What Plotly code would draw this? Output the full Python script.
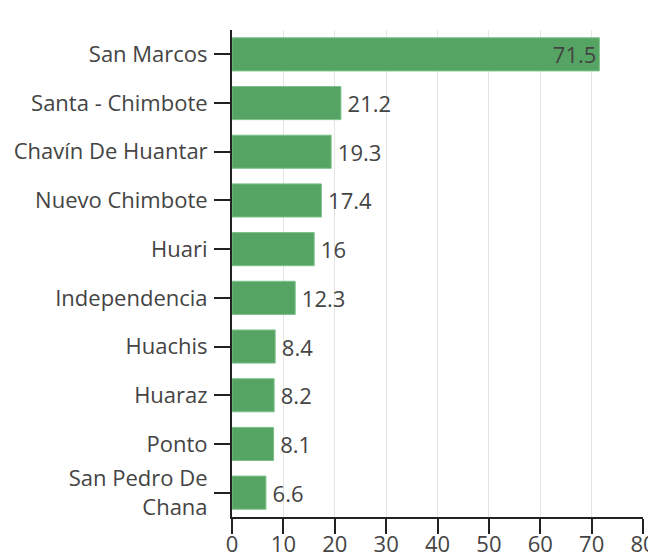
import plotly.graph_objects as go

categories = ["San Marcos", "Santa - Chimbote", "Chavín De Huantar", "Nuevo Chimbote",
              "Huari", "Independencia", "Huachis", "Huaraz", "Ponto", "San Pedro De<br>Chana"]
values = [71.5, 21.2, 19.3, 17.4, 16, 12.3, 8.4, 8.2, 8.1, 6.6]
tick_vals = [0, 10, 20, 30, 40, 50, 60, 70, 80]

positions = ["inside" if v > 40 else "outside" for v in values]

fig = go.Figure(go.Bar(
    x=values, y=categories, orientation="h",
    text=[str(v) for v in values], textposition=positions,
    texttemplate="\u2009%{text}",
    insidetextanchor="end", constraintext="none",
    insidetextfont=dict(color="#444", size=22),
    outsidetextfont=dict(color="#444", size=22),
    marker=dict(color="#55a463", line=dict(color="#7cc18a", width=1)),
    cliponaxis=False,
))
fig.update_layout(
    width=656, height=554,
    margin=dict(l=224, r=21, t=22, b=45),
    paper_bgcolor="white", plot_bgcolor="white",
    font=dict(family="Open Sans", size=22, color="#444"),
    bargap=0.32, showlegend=False,
)
fig.update_xaxes(range=[0, 80], tickvals=tick_vals, showgrid=True, gridcolor="#e5e5e5",
                 showline=True, linecolor="#222", linewidth=2, ticks="outside",
                 ticklen=15, tickwidth=2, tickcolor="#222", zeroline=False,
                 automargin=False, ticklabelstandoff=-8)
fig.update_yaxes(autorange="reversed", showline=True, linecolor="#222", linewidth=2,
                 ticks="outside", ticklen=16, tickwidth=2, tickcolor="#222",
                 automargin=False, ticklabelstandoff=2)
fig.write_html("out.html")
